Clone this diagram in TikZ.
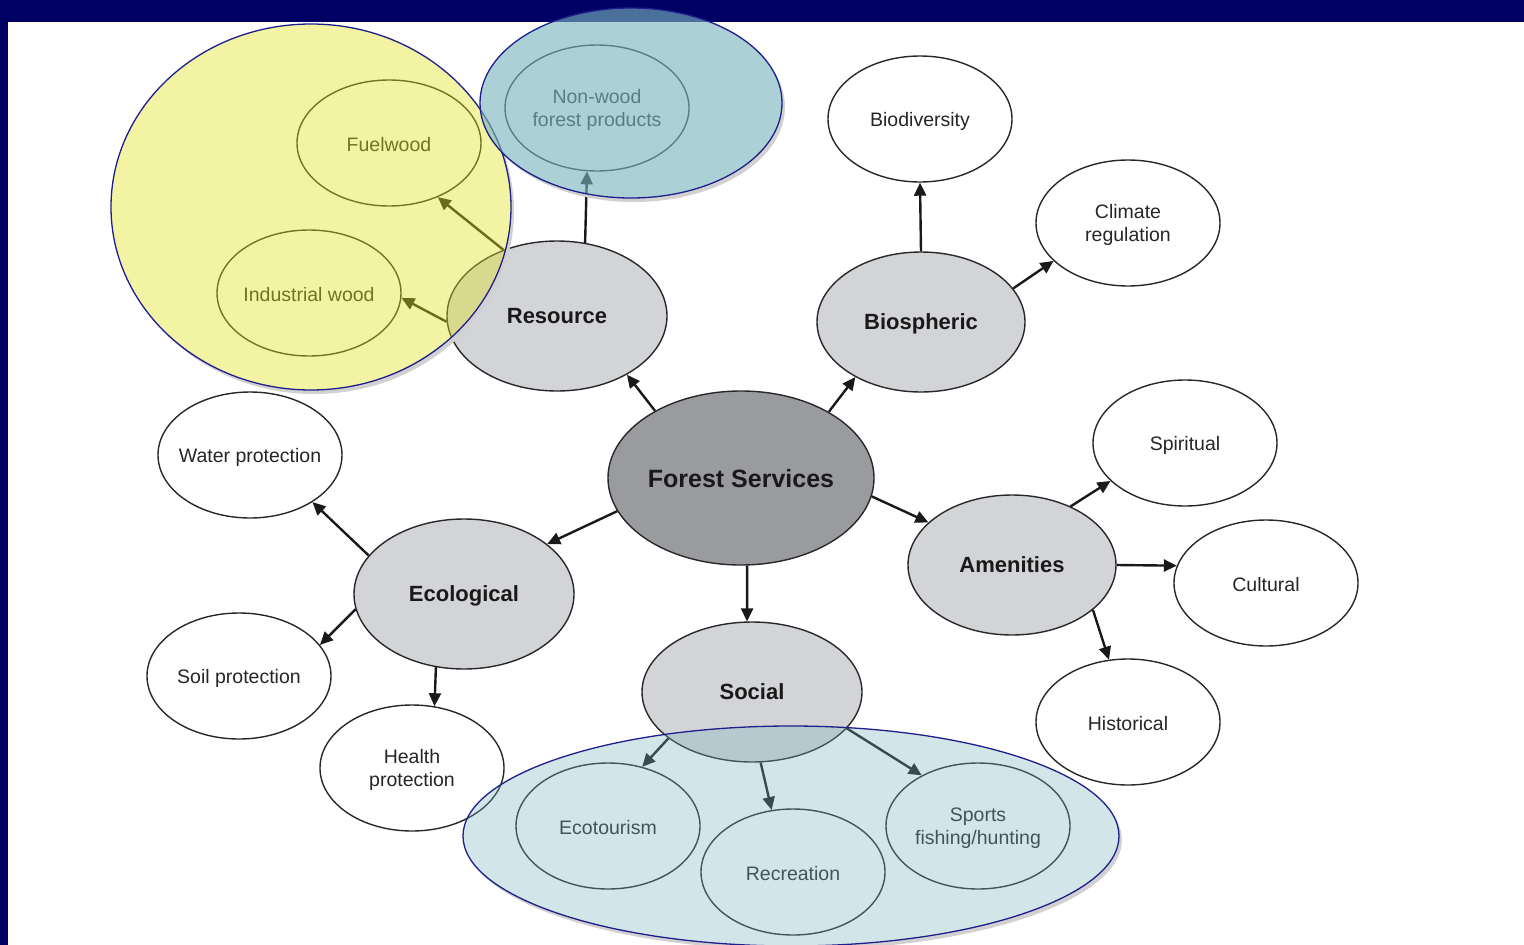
\documentclass[tikz,border=0pt]{standalone}
\usepackage{fontspec}
\setmainfont{Liberation Sans}
\usetikzlibrary{shapes.geometric,arrows.meta}
\definecolor{navybar}{RGB}{0,0,100}
\definecolor{ovborder}{RGB}{30,30,140}
\definecolor{fsgray}{RGB}{154,155,159}
\definecolor{catgray}{RGB}{211,212,215}
\definecolor{lineg}{RGB}{40,40,40}
\definecolor{ovyellow}{rgb}{0.885,0.885,0.14}
\definecolor{ovteal}{rgb}{0.47,0.71,0.74}
\tikzset{
  leaf/.style={ellipse, draw=lineg, line width=1.4pt, fill=white, inner sep=0pt,
    minimum width=184pt, minimum height=126pt},
  lbl/.style={align=center, text=black!85, inner sep=0pt, yshift=-2pt,
    font=\fontsize{19.5}{23}\selectfont},
  cat/.style={ellipse, draw=lineg, line width=1.4pt, fill=catgray, inner sep=0pt,
    text depth=0pt, align=center, text=black!90, font=\fontsize{22}{26}\selectfont\bfseries},
  hub/.style={ellipse, draw=lineg, line width=1.4pt, fill=fsgray, inner sep=0pt,
    text depth=0pt, minimum width=266pt, minimum height=174pt, text=black!90,
    font=\fontsize{25}{29}\selectfont\bfseries},
  arr/.style={draw=black!90, line width=2.4pt, -{Triangle[length=13pt,width=12pt]}},
  ovline/.style={draw=ovborder, line width=1.3pt},
}
\begin{document}
\begin{tikzpicture}[x=1pt,y=-1pt]
\useasboundingbox (0,0) rectangle (1524,945);
\fill[white] (0,0) rectangle (1524,945);
\fill[navybar] (0,0) rectangle (1524,22);
\fill[navybar] (0,0) rectangle (8,945);

% hub and categories
\node[hub] (fs) at (741,478) {Forest Services};
\node[cat, minimum width=220pt, minimum height=150pt] (res) at (557,316) {Resource};
\node[cat, minimum width=208pt, minimum height=140pt] (bio) at (921,322) {Biospheric};
\node[cat, minimum width=208pt, minimum height=140pt] (amen) at (1012,565) {Amenities};
\node[cat, minimum width=220pt, minimum height=140pt] (soc) at (752,692) {Social};
\node[cat, minimum width=220pt, minimum height=150pt] (eco) at (464,594) {Ecological};

% leaves
\node[leaf, label={[lbl]center:Fuelwood}] (fuel) at (389,143) {};
\node[leaf, label={[lbl]center:Industrial wood}] (ind) at (309,293) {};
\node[leaf, label={[lbl]center:{Non-wood\\forest products}}] (nwfp) at (597,108) {};
\node[leaf, label={[lbl]center:Biodiversity}] (biod) at (920,119) {};
\node[leaf, label={[lbl]center:{Climate\\regulation}}] (clim) at (1128,223) {};
\node[leaf, label={[lbl]center:Spiritual}] (spir) at (1185,443) {};
\node[leaf, label={[lbl]center:Cultural}] (cult) at (1266,583) {};
\node[leaf, label={[lbl]center:Historical}] (hist) at (1128,722) {};
\node[leaf, label={[lbl]center:Water protection}] (water) at (250,455) {};
\node[leaf, label={[lbl]center:Soil protection}] (soil) at (239,676) {};
\node[leaf, label={[lbl]center:{Health\\protection}}] (health) at (412,768) {};
\node[leaf, label={[lbl]center:Ecotourism}] (ecot) at (608,826) {};
\node[leaf, label={[lbl]center:Recreation}] (recr) at (793,872) {};
\node[leaf, label={[lbl]center:{Sports\\fishing/hunting}}] (sport) at (978,826) {};

% connectors
\draw[arr] (fs.142) -- (res.-40);
\draw[arr] (fs.37) -- (bio.-140);
\draw[arr] (fs.-8) -- (amen.153);
\draw[arr] (fs.-86) -- (soc.94);
\draw[arr] (fs.-165) -- (eco.31);
\draw[arr] (res.69) -- (nwfp.-99);
\draw[arr] (res.129) -- (fuel.-48);
\draw[arr] (res.183) -- (ind.-3);
\draw[arr] (bio.90) -- (biod.-90);
\draw[arr] (bio.20) -- (clim.-153);
\draw[arr] (amen.45) -- (spir.-153);
\draw[arr] (amen.east) -- (cult.169);
\draw[arr] (amen.-29) -- (hist.107);
\draw[arr] (eco.158) -- (water.-37);
\draw[arr] (eco.188) -- (soil.21);
\draw[arr] (eco.-111) -- (health.70);
\draw[arr] (soc.-151) -- (ecot.60);
\draw[arr] (soc.-83) -- (recr.109);
\draw[arr] (soc.-21) -- (sport.138);

% overlay shadows
\begin{scope}[even odd rule]
  \clip (-10,-10) rectangle (1540,960) (311,207) ellipse [x radius=200, y radius=183];
  \fill[black!18] (314,211) ellipse [x radius=200, y radius=183];
\end{scope}
\begin{scope}[even odd rule]
  \clip (-10,-10) rectangle (1540,960) (631,103) ellipse [x radius=151, y radius=95];
  \fill[black!18] (634,107) ellipse [x radius=151, y radius=95];
\end{scope}
\begin{scope}[even odd rule]
  \clip (-10,-10) rectangle (1540,960) (791,836) ellipse [x radius=328, y radius=110];
  \fill[black!18] (794,840) ellipse [x radius=328, y radius=110];
\end{scope}

% overlays
\path[ovline, fill=ovyellow, fill opacity=0.41] (311,207) ellipse [x radius=200, y radius=183];
\path[ovline, fill=ovteal, fill opacity=0.62] (631,103) ellipse [x radius=151, y radius=95];
\path[ovline, fill=ovteal, fill opacity=0.33] (791,836) ellipse [x radius=328, y radius=110];
\end{tikzpicture}
\end{document}
